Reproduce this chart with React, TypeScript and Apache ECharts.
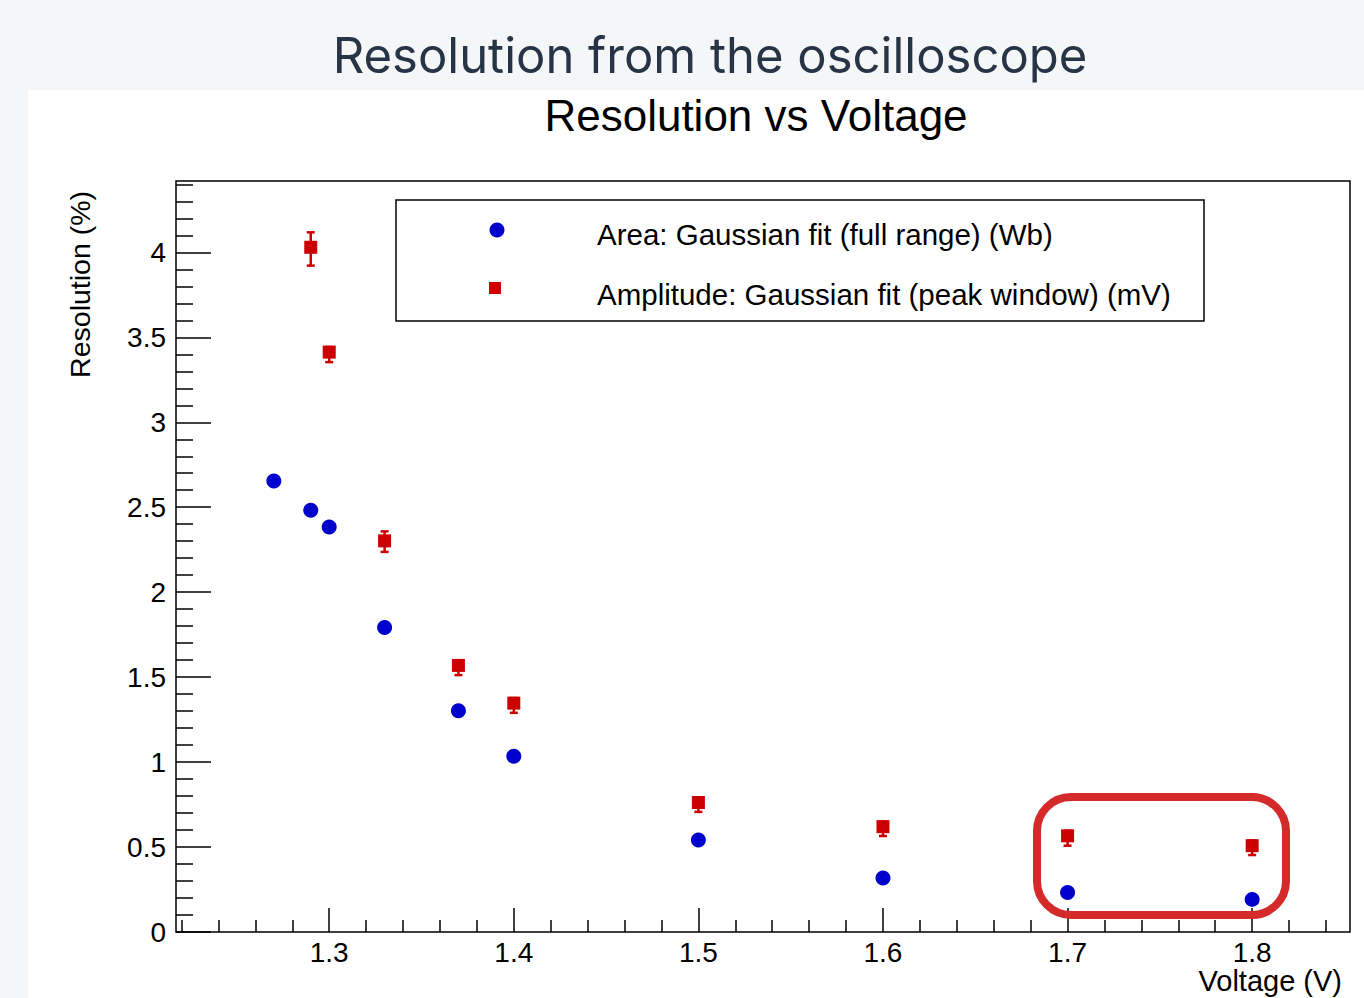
import React, { useEffect, useRef } from "react";
import * as echarts from "echarts";

// ---------- data ----------
const areaVoltages = [1.27, 1.29, 1.3, 1.33, 1.37, 1.4, 1.5, 1.6, 1.7, 1.8];
const areaResolution = [2.655, 2.482, 2.384, 1.792, 1.302, 1.035, 0.541, 0.318, 0.233, 0.192];

const ampVoltages = [1.29, 1.3, 1.33, 1.37, 1.4, 1.5, 1.6, 1.7, 1.8];
const ampResolution = [4.03, 3.413, 2.302, 1.569, 1.347, 0.762, 0.62, 0.566, 0.508];
const ampErrLow = [0.108, 0.059, 0.065, 0.057, 0.057, 0.055, 0.055, 0.058, 0.055];
const ampErrHigh = [0.088, 0.03, 0.056, 0.03, 0.03, 0.03, 0.03, 0.03, 0.03];

const xMajorTicks = [1.3, 1.4, 1.5, 1.6, 1.7, 1.8];
const xMinorTicks = [
  1.22, 1.24, 1.26, 1.28, 1.32, 1.34, 1.36, 1.38, 1.42, 1.44, 1.46, 1.48,
  1.52, 1.54, 1.56, 1.58, 1.62, 1.64, 1.66, 1.68, 1.72, 1.74, 1.76, 1.78,
  1.82, 1.84,
];
const yMajorTicks = [0, 0.5, 1, 1.5, 2, 2.5, 3, 3.5, 4];
const yMinorTicks = [
  0.1, 0.2, 0.3, 0.4, 0.6, 0.7, 0.8, 0.9, 1.1, 1.2, 1.3, 1.4, 1.6, 1.7, 1.8,
  1.9, 2.1, 2.2, 2.3, 2.4, 2.6, 2.7, 2.8, 2.9, 3.1, 3.2, 3.3, 3.4, 3.6, 3.7,
  3.8, 3.9, 4.1, 4.2, 4.3, 4.4,
];

const xMin = 1.217;
const xMax = 1.853;
const yMin = 0;
const yMax = 4.42;

const subtitleText = "Resolution from the oscilloscope";
const chartTitle = "Resolution vs Voltage";
const xTitle = "Voltage (V)";
const yTitle = "Resolution (%)";
const legendArea = "Area: Gaussian fit (full range) (Wb)";
const legendAmp = "Amplitude: Gaussian fit (peak window) (mV)";

// ---------- styles ----------
const BLUE = "#0000cc";
const RED = "#cc0000";
const ROOT_FONT = "'Liberation Sans', Arial, Helvetica, sans-serif";

export default function App() {
  const ref = useRef<HTMLDivElement>(null);

  useEffect(() => {
    if (!ref.current) return;
    const chart = echarts.init(ref.current, null, { renderer: "svg" });

    const commonX = {
      type: "value",
      min: xMin,
      max: xMax,
      position: "bottom",
      gridIndex: 0,
      splitLine: { show: false },
      axisLine: { show: false },
    };
    const commonY = {
      type: "value",
      min: yMin,
      max: yMax,
      position: "left",
      gridIndex: 0,
      splitLine: { show: false },
      axisLine: { show: false },
    };

    const option: any = {
      animation: false,
      backgroundColor: "#f5f6f8",
      grid: {
        left: 176,
        top: 181,
        width: 1174,
        height: 751,
        show: true,
        borderColor: "#000",
        borderWidth: 1.5,
        backgroundColor: "transparent",
      },
      xAxis: [
        {
          ...commonX,
          axisTick: {
            show: true,
            inside: true,
            length: 24,
            customValues: xMajorTicks,
            lineStyle: { color: "#000", width: 1.5 },
          },
          axisLabel: {
            show: true,
            customValues: xMajorTicks,
            fontSize: 28,
            fontFamily: ROOT_FONT,
            color: "#000",
            margin: 6,
          },
        },
        {
          ...commonX,
          axisTick: {
            show: true,
            inside: true,
            length: 12,
            customValues: xMinorTicks,
            lineStyle: { color: "#000", width: 1.5 },
          },
          axisLabel: { show: false },
        },
      ],
      yAxis: [
        {
          ...commonY,
          axisTick: {
            show: true,
            inside: true,
            length: 35,
            customValues: yMajorTicks,
            lineStyle: { color: "#000", width: 1.5 },
          },
          axisLabel: {
            show: true,
            customValues: yMajorTicks,
            fontSize: 28,
            fontFamily: ROOT_FONT,
            color: "#000",
            margin: 10,
          },
        },
        {
          ...commonY,
          axisTick: {
            show: true,
            inside: true,
            length: 17,
            customValues: yMinorTicks,
            lineStyle: { color: "#000", width: 1.5 },
          },
          axisLabel: { show: false },
        },
      ],
      series: [
        {
          type: "custom",
          name: "ampErrors",
          xAxisIndex: 0,
          yAxisIndex: 0,
          z: 3,
          encode: { x: 0, y: 1 },
          data: ampVoltages.map((v, i) => [v, ampResolution[i], ampErrLow[i], ampErrHigh[i]]),
          renderItem: (params: any, api: any) => {
            const x = api.value(0);
            const y = api.value(1);
            const lo = api.value(2);
            const hi = api.value(3);
            const top = api.coord([x, y + hi]);
            const bot = api.coord([x, y - lo]);
            const hw = 4;
            const st = { stroke: RED, lineWidth: 2.5 };
            return {
              type: "group",
              children: [
                { type: "line", shape: { x1: top[0], y1: top[1], x2: bot[0], y2: bot[1] }, style: st },
                { type: "line", shape: { x1: top[0] - hw, y1: top[1], x2: top[0] + hw, y2: top[1] }, style: st },
                { type: "line", shape: { x1: bot[0] - hw, y1: bot[1], x2: bot[0] + hw, y2: bot[1] }, style: st },
              ],
            };
          },
        },
        {
          type: "scatter",
          name: legendAmp,
          xAxisIndex: 0,
          yAxisIndex: 0,
          z: 5,
          symbol: "rect",
          symbolSize: 13,
          itemStyle: { color: RED, opacity: 1 },
          data: ampVoltages.map((v, i) => [v, ampResolution[i]]),
        },
        {
          type: "scatter",
          name: legendArea,
          xAxisIndex: 0,
          yAxisIndex: 0,
          z: 5,
          symbol: "circle",
          symbolSize: 15,
          itemStyle: { color: BLUE, opacity: 1 },
          data: areaVoltages.map((v, i) => [v, areaResolution[i]]),
        },
      ],
      graphic: [
        {
          type: "rect",
          z: -10,
          silent: true,
          shape: { x: 28, y: 90, width: 1336, height: 908 },
          style: { fill: "#ffffff" },
        },
        {
          type: "text",
          z: 10,
          x: 710,
          y: 55,
          style: {
            text: subtitleText,
            fontFamily: "Inter, 'Noto Sans', sans-serif",
            fontSize: 49,
            fontWeight: 400,
            fill: "#263445",
            align: "center",
            verticalAlign: "middle",
          },
        },
        {
          type: "text",
          z: 10,
          x: 756,
          y: 115,
          style: {
            text: chartTitle,
            fontFamily: ROOT_FONT,
            fontSize: 44,
            fill: "#000",
            align: "center",
            verticalAlign: "middle",
          },
        },
        {
          type: "text",
          z: 10,
          x: 1342,
          y: 981,
          style: {
            text: xTitle,
            fontFamily: ROOT_FONT,
            fontSize: 29,
            fill: "#000",
            align: "right",
            verticalAlign: "middle",
          },
        },
        {
          type: "text",
          z: 10,
          x: 80,
          y: 191,
          rotation: Math.PI / 2,
          style: {
            text: yTitle,
            fontFamily: ROOT_FONT,
            fontSize: 28.5,
            fill: "#000",
            align: "right",
            verticalAlign: "middle",
          },
        },
        // legend box
        {
          type: "rect",
          z: 10,
          shape: { x: 396, y: 200, width: 808, height: 121 },
          style: { fill: "#ffffff", stroke: "#000", lineWidth: 1.5 },
        },
        {
          type: "circle",
          z: 11,
          shape: { cx: 497, cy: 230, r: 7.5 },
          style: { fill: BLUE },
        },
        {
          type: "rect",
          z: 11,
          shape: { x: 489, y: 282, width: 12, height: 12 },
          style: { fill: RED },
        },
        {
          type: "text",
          z: 11,
          x: 597,
          y: 234,
          style: {
            text: legendArea,
            fontFamily: ROOT_FONT,
            fontSize: 29.5,
            fill: "#000",
            align: "left",
            verticalAlign: "middle",
          },
        },
        {
          type: "text",
          z: 11,
          x: 597,
          y: 294,
          style: {
            text: legendAmp,
            fontFamily: ROOT_FONT,
            fontSize: 29.5,
            fill: "#000",
            align: "left",
            verticalAlign: "middle",
          },
        },
        // highlight box
        {
          type: "rect",
          z: 20,
          shape: { x: 1037, y: 797, width: 249, height: 118, r: 34 },
          style: { fill: "none", stroke: "#d42a2a", lineWidth: 8 },
        },
      ],
    };

    chart.setOption(option);
    return () => {
      chart.dispose();
    };
  }, []);

  return (
    <div
      ref={ref}
      style={{ position: "fixed", left: 0, top: 0, width: 1364, height: 998 }}
    />
  );
}
